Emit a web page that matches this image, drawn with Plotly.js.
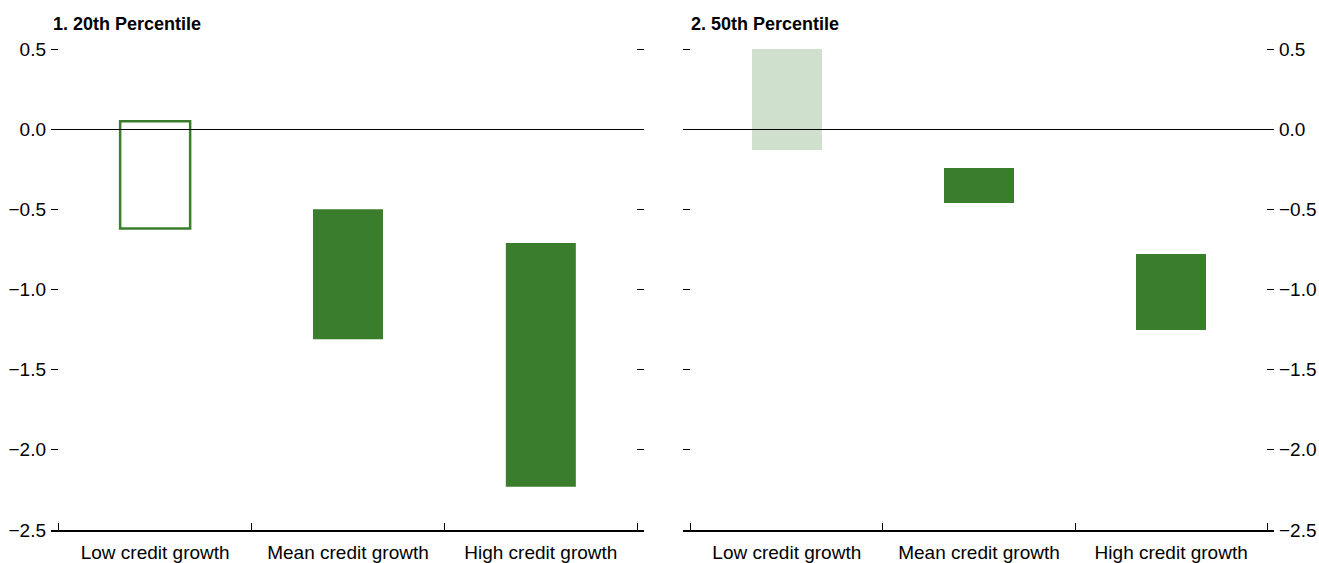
<!DOCTYPE html>
<html>
<head>
<meta charset="utf-8">
<script src="https://cdn.plot.ly/plotly-3.0.1.min.js"></script>
<style>
  html, body { margin: 0; padding: 0; background: #ffffff; }
  #chart { width: 1319px; height: 563px; }
</style>
</head>
<body>
<div id="chart"></div>
<script>
// ---- data ----
const categories = ['Low credit growth', 'Mean credit growth', 'High credit growth'];
const p20Low  = [-0.62, -1.31, -2.23];
const p20High = [0.05, -0.50, -0.71];
const p50Low  = [-0.13, -0.46, -1.25];
const p50High = [0.50, -0.24, -0.78];
const panelTitles = ['1. 20th Percentile', '2. 50th Percentile'];
const yTickVals = [0.5, 0.0, -0.5, -1.0, -1.5, -2.0, -2.5];

// ---- styles ----
const DARK = 'rgb(58,125,44)';
const LIGHT = 'rgb(207,224,205)';
const FONT = 'Liberation Sans, Arial, sans-serif';

function spans(lo, hi) { return hi.map((h, i) => h - lo[i]); }

const traces = [
  {
    type: 'bar', x: categories, y: spans(p20Low, p20High), base: p20Low,
    xaxis: 'x', yaxis: 'y', width: 0.363,
    marker: {
      color: ['#ffffff', DARK, DARK],
      line: { color: [DARK, DARK, DARK], width: [2.5, 0, 0] }
    },
    hoverinfo: 'skip', showlegend: false
  },
  {
    type: 'bar', x: categories, y: spans(p50Low, p50High), base: p50Low,
    xaxis: 'x2', yaxis: 'y2', width: 0.363,
    marker: { color: [LIGHT, DARK, DARK], line: { width: 0 } },
    hoverinfo: 'skip', showlegend: false
  }
];

const W = 1319;
const xCommon = {
  type: 'category', range: [-0.54, 2.535], tickson: 'boundaries',
  ticks: 'inside', ticklen: 7, tickwidth: 1, tickcolor: '#000',
  showline: true, linecolor: '#000', linewidth: 1.5,
  showgrid: false, zeroline: false, fixedrange: true,
  tickfont: { family: FONT, size: 19, color: '#000' },
  ticklabelstandoff: 5
};
const yCommon = {
  range: [-2.5, 0.5125], tickmode: 'array', tickvals: yTickVals, tickformat: '.1f',
  ticks: 'inside', ticklen: 7, tickwidth: 1, tickcolor: '#000',
  mirror: 'ticks', showline: false, showgrid: false,
  zeroline: true, zerolinecolor: '#000', zerolinewidth: 1, zerolinelayer: 'above traces',
  fixedrange: true,
  tickfont: { family: FONT, size: 19, color: '#000' }
};

const layout = {
  width: W, height: 563,
  margin: { l: 0, r: 0, t: 47, b: 33, pad: 0 },
  paper_bgcolor: '#ffffff', plot_bgcolor: '#ffffff',
  bargap: 0,
  xaxis:  Object.assign({}, xCommon, { domain: [51 / W, 644 / W], anchor: 'y' }),
  xaxis2: Object.assign({}, xCommon, { domain: [683 / W, 1274 / W], anchor: 'y2' }),
  yaxis:  Object.assign({}, yCommon, { anchor: 'x', side: 'left', ticklabelstandoff: 4 }),
  yaxis2: Object.assign({}, yCommon, { anchor: 'x2', side: 'right', ticklabelstandoff: 4 }),
  annotations: [
    { text: '<b>' + panelTitles[0] + '</b>', xref: 'paper', yref: 'paper',
      x: 51 / W, y: (530 - 24) / 483, xanchor: 'left', yanchor: 'middle', showarrow: false,
      font: { family: FONT, size: 18, color: '#000' } },
    { text: '<b>' + panelTitles[1] + '</b>', xref: 'paper', yref: 'paper',
      x: 689 / W, y: (530 - 24) / 483, xanchor: 'left', yanchor: 'middle', showarrow: false,
      font: { family: FONT, size: 18, color: '#000' } }
  ]
};

Plotly.newPlot('chart', traces, layout, { displayModeBar: false, staticPlot: true });
</script>
</body>
</html>
